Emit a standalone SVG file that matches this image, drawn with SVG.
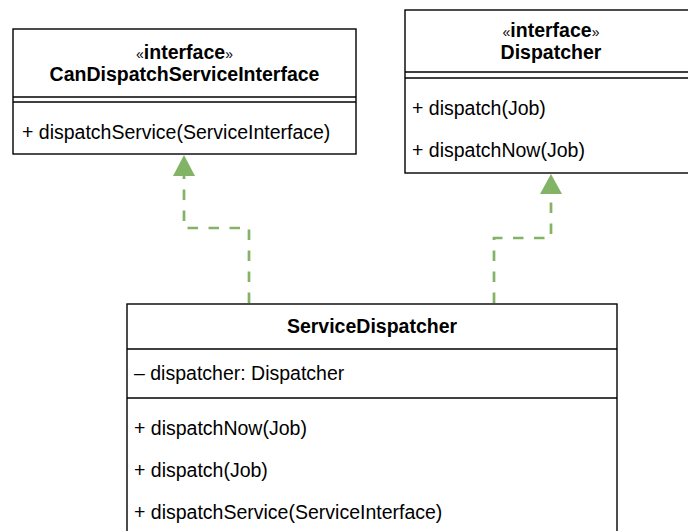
<svg xmlns="http://www.w3.org/2000/svg" width="688" height="531" viewBox="0 0 688 531">
<style>
.box{fill:#fff;stroke:#000;stroke-width:1.4}
.ln{stroke:#000;stroke-width:1.4;fill:none}
text{font-family:"Liberation Sans",Arial,Helvetica,sans-serif;font-size:19.5px;fill:#000}
.b{font-weight:bold}
.c{text-anchor:middle}
.g{font-weight:normal;font-size:14px}
.edge{fill:none;stroke:#82b366;stroke-width:2.7;stroke-dasharray:10.5 10.5}
</style>
<defs>
<marker id="tri" viewBox="0 0 10 10" refX="10" refY="5" markerWidth="8" markerHeight="8" markerUnits="userSpaceOnUse" orient="auto">
<path d="M0,0 L10,5 L0,10 Z" fill="#82b366"/>
</marker>
</defs>
<g id="connectors">
<path class="edge" d="M249,303 V228 H184 V176"/>
<path d="M184,155 L195,176 L173,176 Z" fill="#82b366"/>
<path class="edge" d="M494,303 V238 H551 V194"/>
<path d="M551,174 L562,194 L540,194 Z" fill="#82b366"/>
</g>
<g id="CanDispatchServiceInterface">
<rect class="box" x="13" y="29" width="343" height="125"/>
<line class="ln" x1="13" y1="97" x2="356" y2="97"/>
<line class="ln" x1="13" y1="102" x2="356" y2="102"/>
<text class="c b" x="184.5" y="58.7"><tspan class="g">«</tspan>interface<tspan class="g">»</tspan></text>
<text class="c b" x="184.5" y="81">CanDispatchServiceInterface</text>
<text x="22" y="139">+ dispatchService(ServiceInterface)</text>
</g>
<g id="Dispatcher">
<rect class="box" x="405" y="10" width="300" height="163"/>
<line class="ln" x1="405" y1="72" x2="705" y2="72"/>
<line class="ln" x1="405" y1="78" x2="705" y2="78"/>
<text class="c b" x="551" y="36.7"><tspan class="g">«</tspan>interface<tspan class="g">»</tspan></text>
<text class="c b" x="551" y="59">Dispatcher</text>
<text x="412" y="115">+ dispatch(Job)</text>
<text x="412" y="157">+ dispatchNow(Job)</text>
</g>
<g id="ServiceDispatcher">
<rect class="box" x="127" y="304" width="490" height="240"/>
<line class="ln" x1="127" y1="349" x2="617" y2="349"/>
<line class="ln" x1="127" y1="398" x2="617" y2="398"/>
<text class="c b" x="372" y="333">ServiceDispatcher</text>
<text x="134" y="380">– dispatcher: Dispatcher</text>
<text x="134" y="435">+ dispatchNow(Job)</text>
<text x="134" y="477">+ dispatch(Job)</text>
<text x="134" y="519">+ dispatchService(ServiceInterface)</text>
</g>
</svg>
